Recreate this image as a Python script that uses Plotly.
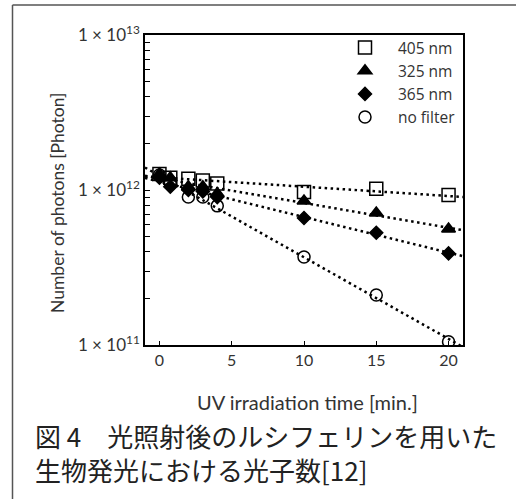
import numpy as np
import plotly.graph_objects as go

# ---- data ----
time_min = [0, 0.75, 2, 3, 4, 10, 15, 20]
series_names = ["405 nm", "325 nm", "365 nm", "no filter"]
photons_405 = [1.27e12, 1.20e12, 1.18e12, 1.15e12, 1.10e12, 0.97e12, 1.02e12, 0.93e12]
photons_325 = [1.27e12, 1.20e12, 1.05e12, 1.05e12, 0.95e12, 0.85e12, 0.71e12, 0.56e12]
photons_365 = [1.20e12, 1.05e12, 1.00e12, 0.98e12, 0.90e12, 0.66e12, 0.53e12, 0.39e12]
photons_nofilter = [1.25e12, 1.10e12, 0.90e12, 0.90e12, 0.79e12, 0.37e12, 0.21e12, 0.105e12]
x_ticks = [0, 5, 10, 15, 20]
y_major = [1e11, 1e12, 1e13]
y_major_labels = ["1 × 10<sup>11</sup>", "1 × 10<sup>12</sup>", "1 × 10<sup>13</sup>"]
x_title = "UV irradiation time [min.]"
y_title = "Number of photons [Photon]"
caption = "図 4　光照射後のルシフェリンを用いた<br>生物発光における光子数[12]"

W, H = 516, 499
L, R, T, B = 145, 463, 35, 345  # plot area in pixels
pw, ph = R - L, B - T

def px_x(p):
    return (p - L) / pw

def px_y(p):
    return (B - p) / ph

all_series = [photons_405, photons_325, photons_365, photons_nofilter]
symbols = ["square-open", "triangle-up", "diamond", "circle-open"]
sizes = [13, 12, 10, 12]

fig = go.Figure()
x_fit = np.array([-1.0, 21.0])
for vals in all_series:
    slope, icpt = np.polyfit(time_min, np.log10(vals), 1)
    fig.add_trace(go.Scatter(
        x=x_fit, y=10 ** (icpt + slope * x_fit), mode="lines",
        line=dict(color="black", width=2.5, dash="2.5px,3.5px"),
        showlegend=False, hoverinfo="skip"))

for name, vals, sym, sz in zip(series_names, all_series, symbols, sizes):
    fig.add_trace(go.Scatter(
        x=time_min, y=vals, mode="markers", name=name,
        marker=dict(symbol=sym, size=sz, color="black",
                    line=dict(color="black", width=1.5))))

minor_vals = []
for d in [1e11, 1e12]:
    for k in range(2, 10):
        minor_vals.append(k * d)

txt = "#333333"
base_font = "Lato, Open Sans, sans-serif"
fig.update_layout(
    width=W, height=H,
    margin=dict(l=L, r=W - R, t=T, b=H - B),
    paper_bgcolor="white", plot_bgcolor="white",
    font=dict(family=base_font, color=txt, size=15),
    showlegend=True,
    legend=dict(x=px_x(332), y=px_y(31), xanchor="left", yanchor="top",
                bgcolor="rgba(0,0,0,0)",
                font=dict(size=15.5, color=txt, family="Open Sans, sans-serif"),
                tracegroupgap=0, itemwidth=56),
    xaxis=dict(range=[-1, 21], tickvals=x_ticks, ticks="inside", ticklen=4,
               tickcolor="black", showgrid=False, zeroline=False,
               showline=True, linecolor="black", linewidth=1.5, mirror=True,
               tickfont=dict(size=16, color=txt)),
    yaxis=dict(type="log", range=[11, 13], tickvals=y_major + minor_vals,
               ticktext=y_major_labels + [""] * len(minor_vals),
               ticks="inside", ticklen=5, tickcolor="black",
               showgrid=False, zeroline=False, showline=True,
               linecolor="black", linewidth=1.5, mirror=True,
               tickfont=dict(size=17, color=txt)),
)

annotations = [
    dict(text=x_title, x=px_x(307), y=px_y(402), xref="paper", yref="paper",
         showarrow=False, xanchor="center", yanchor="middle",
         font=dict(size=20, color=txt)),
    dict(text=y_title, x=px_x(57), y=px_y(203), xref="paper", yref="paper",
         showarrow=False, xanchor="center", yanchor="middle", textangle=-90,
         font=dict(size=17.5, color=txt)),
    dict(text=caption, x=px_x(33), y=px_y(452), xref="paper", yref="paper",
         showarrow=False, xanchor="left", yanchor="middle", align="left",
         font=dict(size=26, color="#222222", family="Noto Sans CJK JP")),
]
fig.update_layout(annotations=annotations)

border = dict(color="#555555", width=1.5)
fig.add_shape(type="line", xref="paper", yref="paper",
              x0=px_x(12.5), x1=px_x(12.5), y0=px_y(5), y1=px_y(499), line=border)
fig.add_shape(type="line", xref="paper", yref="paper",
              x0=px_x(12.5), x1=px_x(516), y0=px_y(5), y1=px_y(5), line=border)

fig.write_html("out.html", config={"displayModeBar": False},
               post_script="document.body.style.margin='0';"
                           "document.body.style.overflow='hidden';")
